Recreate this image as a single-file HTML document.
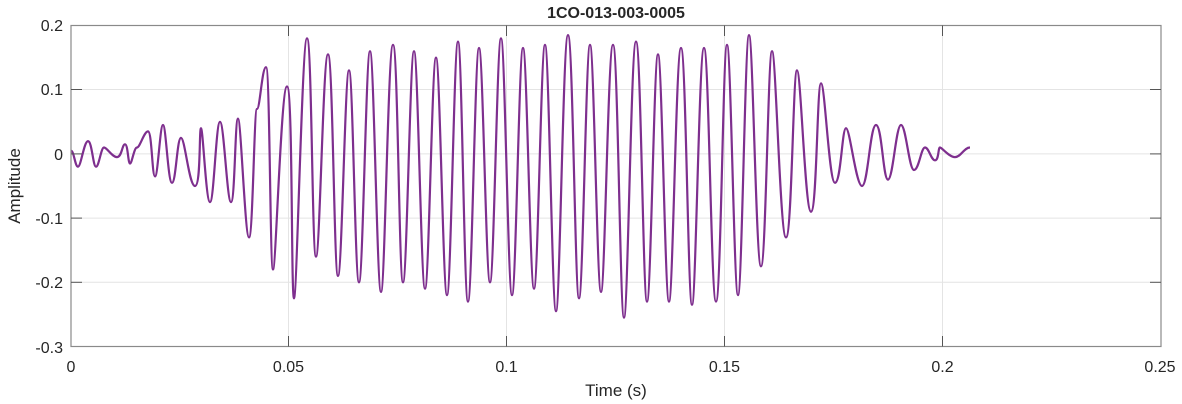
<!DOCTYPE html>
<html><head><meta charset="utf-8"><style>
html,body{margin:0;padding:0;background:#fff;}
svg{display:block;font-family:"Liberation Sans",Arial,sans-serif;}
</style></head><body>
<svg width="1182" height="404" viewBox="0 0 1182 404" xmlns="http://www.w3.org/2000/svg">
<rect x="0" y="0" width="1182" height="404" fill="#fff"/>
<g stroke="#e4e4e4" stroke-width="1">
<line x1="288.5" y1="25.5" x2="288.5" y2="346.5"/>
<line x1="506.5" y1="25.5" x2="506.5" y2="346.5"/>
<line x1="724.5" y1="25.5" x2="724.5" y2="346.5"/>
<line x1="942.5" y1="25.5" x2="942.5" y2="346.5"/>
<line x1="71" y1="89.5" x2="1161" y2="89.5"/>
<line x1="71" y1="153.9" x2="1161" y2="153.9"/>
<line x1="71" y1="218.1" x2="1161" y2="218.1"/>
<line x1="71" y1="282.3" x2="1161" y2="282.3"/>
</g>
<path fill="none" stroke="#7E2F8E" stroke-width="2.2" stroke-linejoin="round" d="M71,150.7 C74,150.7 75,166.7 78,166.7
S84,141.1 88,141.1 S93,166.7 96,166.7 S101,147.5 104,147.5 S112,157.1 117,157.1 S122,144.3 125,144.3 S128,163.5 130,163.5 S134,147.5 137,147.5 S144,131.4 148,131.4 S152,176.4 155,176.4 S160,125.0 163,125.0 S168,182.8 172,182.8 S177,137.9 181,137.9 S189,186.0 195,186.0 S199,128.2 201,128.2 S206,202.1 210,202.1 S216,121.8 220,121.8 S227,202.1 231,202.1 S235,118.6 238,118.6 S245,237.4 249,237.4 S254,109.0 257,109.0 S262,67.2 266,67.2 S270,269.5 273,269.5 S281,86.5 287,86.5 S291,298.3 294,298.3 S302,38.3 307,38.3 S312,256.6 316,256.6 S323,54.4 328,54.4 S334,275.9 338,275.9 S345,70.4 349,70.4 S355,282.3 359,282.3 S366,51.2 370,51.2 S377,291.9 381,291.9 S388,44.8 393,44.8 S399,282.3 403,282.3 S410,51.2 414,51.2 S421,288.7 425,288.7 S432,57.6 436,57.6 S443,295.1 447,295.1 S454,41.6 458,41.6 S464,301.6 468,301.6 S475,48.0 479,48.0 S486,282.3 490,282.3 S497,38.3 501,38.3 S508,295.1 512,295.1 S519,48.0 523,48.0 S530,288.7 534,288.7 S541,44.8 545,44.8 S552,311.2 556,311.2 S563,35.1 568,35.1 S575,298.3 579,298.3 S586,44.8 590,44.8 S597,291.9 601,291.9 S608,44.8 613,44.8 S620,317.6 624,317.6 S631,41.6 636,41.6 S643,301.6 647,301.6 S654,54.4 658,54.4 S665,301.6 669,301.6 S676,48.0 681,48.0 S688,304.8 692,304.8 S699,48.0 704,48.0 S711,301.6 716,301.6 S723,44.8 727,44.8 S734,295.1 738,295.1 S745,35.1 749,35.1 S756,266.3 761,266.3 S768,51.2 772,51.2 S780,237.4 786,237.4 S793,70.4 797,70.4 S805,211.7 811,211.7 S817,83.3 821,83.3 S829,182.8 835,182.8 S842,128.2 846,128.2 S856,186.0 862,186.0 S870,125.0 876,125.0 S883,179.6 888,179.6 S896,125.0 901,125.0 S909,170.0 914,170.0 S921,147.5 925,147.5 S931,160.3 935,160.3 S938,147.5 940,147.5 S949,157.1 955,157.1 S964,147.5 970,147.5"/>
<rect x="71" y="25.5" width="1090" height="321" fill="none" stroke="#8a8a8a" stroke-width="1.2"/>
<g stroke="#555" stroke-width="1">
<line x1="288.5" y1="346.5" x2="288.5" y2="336"/><line x1="506.5" y1="346.5" x2="506.5" y2="336"/>
<line x1="724.5" y1="346.5" x2="724.5" y2="336"/><line x1="942.5" y1="346.5" x2="942.5" y2="336"/>
<line x1="288.5" y1="25.5" x2="288.5" y2="36"/><line x1="506.5" y1="25.5" x2="506.5" y2="36"/>
<line x1="724.5" y1="25.5" x2="724.5" y2="36"/><line x1="942.5" y1="25.5" x2="942.5" y2="36"/>
<line x1="71" y1="89.5" x2="82" y2="89.5"/><line x1="71" y1="153.9" x2="82" y2="153.9"/>
<line x1="71" y1="218.1" x2="82" y2="218.1"/><line x1="71" y1="282.3" x2="82" y2="282.3"/>
<line x1="1161" y1="89.5" x2="1150" y2="89.5"/><line x1="1161" y1="153.9" x2="1150" y2="153.9"/>
<line x1="1161" y1="218.1" x2="1150" y2="218.1"/><line x1="1161" y1="282.3" x2="1150" y2="282.3"/>
</g>
<g fill="#262626" font-size="16" text-anchor="end">
<text x="63" y="31">0.2</text><text x="63" y="95">0.1</text><text x="63" y="160">0</text>
<text x="63" y="224">-0.1</text><text x="63" y="288">-0.2</text><text x="63" y="353">-0.3</text>
</g>
<g fill="#262626" font-size="16" text-anchor="middle">
<text x="71" y="372">0</text><text x="288.5" y="372">0.05</text><text x="506.5" y="372">0.1</text>
<text x="724.5" y="372">0.15</text><text x="942.5" y="372">0.2</text><text x="1160" y="372">0.25</text>
<text x="616" y="396" font-size="17">Time (s)</text>
<text x="616" y="18" font-size="16" font-weight="bold">1CO-013-003-0005</text>
<text transform="translate(20,186) rotate(-90)" font-size="17">Amplitude</text>
</g>
</svg>
</body></html>
